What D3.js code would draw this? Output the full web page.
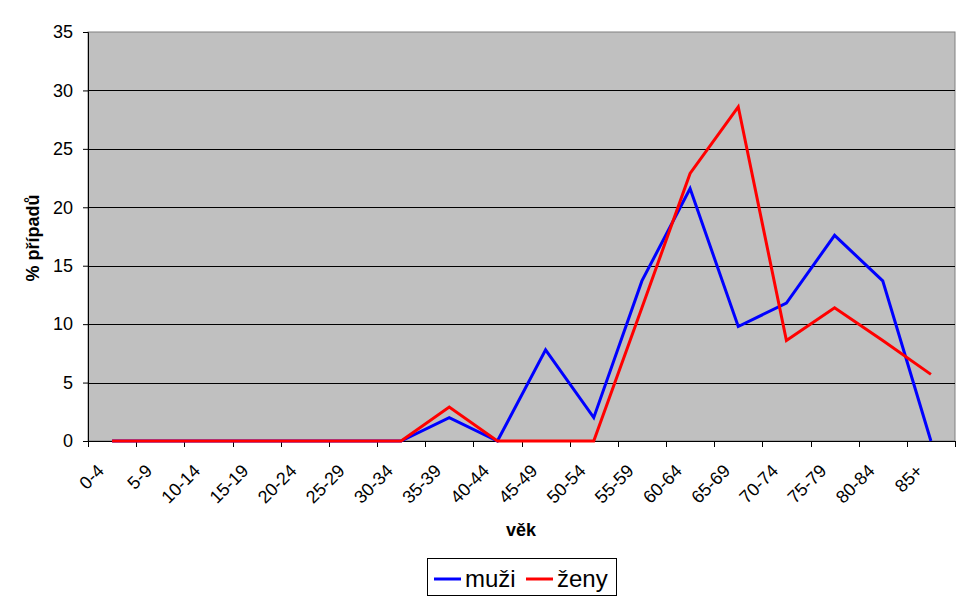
<!DOCTYPE html>
<html>
<head>
<meta charset="utf-8">
<script src="https://cdn.jsdelivr.net/npm/d3@7"></script>
<style>
  body { margin: 0; background: #fff; }
  svg { display: block; font-family: "Liberation Sans", Arial, sans-serif; }
</style>
</head>
<body>
<svg id="chart" width="970" height="604"></svg>
<script>
// age groups on the x axis
const ageGroups = ["0-4", "5-9", "10-14", "15-19", "20-24", "25-29", "30-34", "35-39", "40-44",
    "45-49", "50-54", "55-59", "60-64", "65-69", "70-74", "75-79", "80-84", "85+"];

// % of cases
const muzi = [0, 0, 0, 0, 0, 0, 0, 2.0, 0, 7.8, 2.0, 13.7, 21.6, 9.8, 11.8, 17.6, 13.7, 0];
const zeny = [0, 0, 0, 0, 0, 0, 0, 2.9, 0, 0, 0, 11.4, 22.9, 28.6, 8.6, 11.4, 8.6, 5.7];

const yTicks = [0, 5, 10, 15, 20, 25, 30, 35];

const series = [
    { name: "muži", values: muzi, color: "#0000ff" },
    { name: "ženy", values: zeny, color: "#ff0000" }
];

const svg = d3.select("#chart");
const plot = { left: 88, right: 955, top: 32, bottom: 441 };

const x = d3.scaleBand()
    .domain(ageGroups)
    .range([plot.left, plot.right]);

const y = d3.scaleLinear()
    .domain([0, 35])
    .range([plot.bottom, plot.top]);

// plot background
svg.append("rect")
    .attr("x", plot.left)
    .attr("y", plot.top)
    .attr("width", plot.right - plot.left)
    .attr("height", plot.bottom - plot.top)
    .attr("fill", "#c0c0c0")
    .attr("stroke", "#808080")
    .attr("stroke-width", 1);

// horizontal gridlines
svg.append("g")
    .selectAll("line")
    .data(yTicks.filter(d => d > 0 && d < 35))
    .join("line")
    .attr("x1", plot.left)
    .attr("x2", plot.right)
    .attr("y1", d => Math.round(y(d)) + 0.5)
    .attr("y2", d => Math.round(y(d)) + 0.5)
    .attr("stroke", "#000")
    .attr("stroke-width", 1);

// y axis
const yAxis = svg.append("g")
    .attr("transform", `translate(${plot.left},0)`)
    .call(d3.axisLeft(y).tickValues(yTicks).tickSize(5).tickPadding(10));
yAxis.select(".domain").attr("stroke", "#000");
yAxis.selectAll(".tick line").attr("stroke", "#000");
yAxis.selectAll(".tick text")
    .attr("font-size", 18)
    .attr("font-family", "Liberation Sans, Arial, sans-serif")
    .attr("fill", "#000");

// x axis: ticks on category boundaries
const xAxisG = svg.append("g");
xAxisG.append("line")
    .attr("x1", plot.left)
    .attr("x2", plot.right)
    .attr("y1", plot.bottom + 0.5)
    .attr("y2", plot.bottom + 0.5)
    .attr("stroke", "#000");
const boundaries = ageGroups.map(d => x(d)).concat([x.range()[1]]);
xAxisG.selectAll(".xtick")
    .data(boundaries)
    .join("line")
    .attr("class", "xtick")
    .attr("x1", d => Math.round(d) + 0.5)
    .attr("x2", d => Math.round(d) + 0.5)
    .attr("y1", plot.bottom)
    .attr("y2", plot.bottom + 6)
    .attr("stroke", "#000");
xAxisG.selectAll(".xlabel")
    .data(ageGroups)
    .join("text")
    .attr("class", "xlabel")
    .attr("transform", d => `translate(${x(d) + x.bandwidth() / 2 - 7},472) rotate(-45)`)
    .attr("text-anchor", "end")
    .attr("font-size", 18)
    .attr("fill", "#000")
    .text(d => d);

// lines
const line = d3.line()
    .x((d, i) => x(ageGroups[i]) + x.bandwidth() / 2)
    .y(d => y(d));

svg.append("g")
    .selectAll("path")
    .data(series)
    .join("path")
    .attr("d", d => line(d.values))
    .attr("fill", "none")
    .attr("stroke", d => d.color)
    .attr("stroke-width", 3)
    .attr("stroke-linejoin", "miter");

// axis titles
svg.append("text")
    .attr("x", 521)
    .attr("y", 536)
    .attr("text-anchor", "middle")
    .attr("font-size", 18)
    .attr("font-weight", "bold")
    .text("věk");

svg.append("text")
    .attr("transform", "translate(39,238) rotate(-90)")
    .attr("text-anchor", "middle")
    .attr("font-size", 18)
    .attr("font-weight", "bold")
    .text("% případů");

// legend
const legend = svg.append("g");
legend.append("rect")
    .attr("x", 427.5)
    .attr("y", 558.5)
    .attr("width", 189)
    .attr("height", 37)
    .attr("fill", "#fff")
    .attr("stroke", "#000");

const legendX = [434, 526];
const items = legend.selectAll(".item")
    .data(series)
    .join("g")
    .attr("class", "item")
    .attr("transform", (d, i) => `translate(${legendX[i]},579)`);
items.append("line")
    .attr("x1", 0)
    .attr("x2", 27)
    .attr("stroke", d => d.color)
    .attr("stroke-width", 3);
items.append("text")
    .attr("x", 31)
    .attr("y", 8)
    .attr("font-size", 24)
    .text(d => d.name);
</script>
</body>
</html>
